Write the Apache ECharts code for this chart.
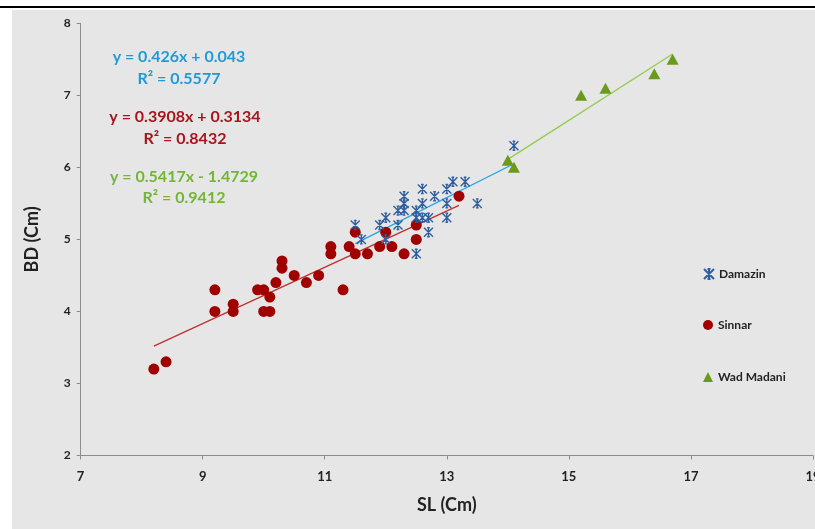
<!DOCTYPE html>
<html>
<head>
<meta charset="utf-8">
<script src="https://cdn.jsdelivr.net/npm/echarts@6/dist/echarts.min.js"></script>
<style>
html,body{margin:0;padding:0;background:#fff;}
#c{width:815px;height:529px;}
</style>
</head>
<body>
<div id="c"></div>
<script>
// ---- data ----
const damazinSL = [11.5,11.6,11.9,12.0,12.0,12.2,12.2,12.3,12.3,12.3,12.5,12.5,12.5,12.6,12.6,12.6,12.7,12.7,12.8,13.0,13.0,13.0,13.1,13.3,13.5,14.1];
const damazinBD = [5.2,5.0,5.2,5.3,5.0,5.4,5.2,5.6,5.5,5.4,5.4,4.8,5.3,5.7,5.5,5.3,5.3,5.1,5.6,5.7,5.5,5.3,5.8,5.8,5.5,6.3];
const sinnarSL = [8.2,8.4,9.2,9.2,9.5,9.5,9.9,10.0,10.0,10.1,10.1,10.2,10.3,10.3,10.5,10.7,10.9,11.1,11.1,11.3,11.4,11.5,11.5,11.7,11.9,12.0,12.1,12.3,12.5,12.5,13.2];
const sinnarBD = [3.2,3.3,4.3,4.0,4.1,4.0,4.3,4.3,4.0,4.0,4.2,4.4,4.7,4.6,4.5,4.4,4.5,4.9,4.8,4.3,4.9,5.1,4.8,4.8,4.9,5.1,4.9,4.8,5.2,5.0,5.6];
const wadSL = [14.0,14.1,15.2,15.6,16.4,16.7];
const wadBD = [6.1,6.0,7.0,7.1,7.3,7.5];
const seriesNames = ['Damazin','Sinnar','Wad Madani'];
// trend line coefficients [slope, intercept, R2]
const damazinFit = [0.426, 0.043, 0.5577];
const sinnarFit = [0.3908, 0.3134, 0.8432];
const wadFit = [0.5417, -1.4729, 0.9412];
const xTicks = [7, 9, 11, 13, 15, 17, 19];
const yTicks = [2, 3, 4, 5, 6, 7, 8];

const pairs = (xs, ys) => xs.map((x, i) => [x, ys[i]]);
const trend = (xs, fit) => {
  const a = Math.min(...xs), b = Math.max(...xs);
  return [[a, fit[0]*a + fit[1]], [b, fit[0]*b + fit[1]]];
};
const eq = fit => 'y = ' + fit[0] + 'x ' + (fit[1] < 0 ? '- ' : '+ ') + Math.abs(fit[1]);
const r2 = fit => 'R\u00B2 = ' + fit[2];

const cBlueMk = '#2f5f9e', cBlueLn = '#27a3e3', cBlueTx = '#1f9ad8';
const cRed = '#a00000', cRedLn = '#c0302f', cRedTx = '#a8141b';
const cGreenMk = '#6a9a1c', cGreenLn = '#92cc4a', cGreenTx = '#72b634';
const FONT = 'Lato, "Open Sans", sans-serif';
const star = 'path://M0,0L10,10M10,0L0,10M5,0L5,10M3.5,0L6.5,0M3.5,10L6.5,10';

const chart = echarts.init(document.getElementById('c'));
const legendBase = {
  orient: 'vertical', left: 703, itemWidth: 10, itemHeight: 10, itemGap: 5, padding: 0,
  textStyle: {fontFamily: FONT, fontWeight: 'bold', fontSize: 12, color: '#222'},
  selectedMode: false
};
const eqText = (txt, cx, cy, col) => ({
  type: 'text', x: cx, y: cy,
  style: {text: txt, fill: col, font: 'bold 16px ' + FONT, textAlign: 'center', textVerticalAlign: 'middle'}
});
chart.setOption({
  animation: false,
  backgroundColor: '#ffffff',
  graphic: [
    {type: 'rect', z: -10, shape: {x: 12, y: 10, width: 803, height: 519}, style: {fill: '#e6e6e6'}, silent: true},
    {type: 'line', shape: {x1: 0, y1: 7, x2: 815, y2: 7}, style: {stroke: '#000', lineWidth: 2}},
    eqText(eq(damazinFit), 179, 57, cBlueTx),
    eqText(r2(damazinFit), 179, 79, cBlueTx),
    eqText(eq(sinnarFit), 185, 117, cRedTx),
    eqText(r2(sinnarFit), 185, 139, cRedTx),
    eqText(eq(wadFit), 184, 177, cGreenTx),
    eqText(r2(wadFit), 184, 198, cGreenTx)
  ],
  grid: {left: 80.6, right: 2, top: 23.3, bottom: 73.5, containLabel: false, outerBoundsMode: 'none'},
  legend: [
    Object.assign({}, legendBase, {top: 268, data: [seriesNames[0]]}),
    Object.assign({}, legendBase, {top: 319, data: [seriesNames[1]]}),
    Object.assign({}, legendBase, {top: 371, data: [seriesNames[2]]})
  ],
  xAxis: {
    type: 'value', min: 7, max: 19, interval: 2,
    name: 'SL (Cm)', nameLocation: 'middle', nameGap: 41,
    nameTextStyle: {fontFamily: FONT, fontWeight: 'bold', fontSize: 18, color: '#222'},
    axisLine: {show: true, lineStyle: {color: '#8c8c8c', width: 1}},
    axisTick: {show: true, length: 4, lineStyle: {color: '#8c8c8c'}},
    axisLabel: {fontFamily: FONT, fontWeight: 'bold', fontSize: 13, color: '#222', margin: 15},
    splitLine: {show: false}
  },
  yAxis: {
    type: 'value', min: 2, max: 8, interval: 1,
    name: 'BD (Cm)', nameLocation: 'middle', nameGap: 39, nameRotate: 90,
    nameTextStyle: {fontFamily: FONT, fontWeight: 'bold', fontSize: 18, color: '#222'},
    axisLine: {show: true, lineStyle: {color: '#8c8c8c', width: 1}},
    axisTick: {show: true, length: 4, lineStyle: {color: '#8c8c8c'}},
    axisLabel: {fontFamily: FONT, fontWeight: 'bold', fontSize: 12, color: '#222', margin: 10},
    splitLine: {show: false}
  },
  series: [
    {type: 'line', data: trend(damazinSL, damazinFit), showSymbol: false, symbol: 'none', lineStyle: {color: cBlueLn, width: 1.3}, z: 1, silent: true},
    {type: 'line', data: trend(sinnarSL, sinnarFit), showSymbol: false, symbol: 'none', lineStyle: {color: cRedLn, width: 1.3}, z: 1, silent: true},
    {type: 'line', data: trend(wadSL, wadFit), showSymbol: false, symbol: 'none', lineStyle: {color: cGreenLn, width: 1.3}, z: 1, silent: true},
    {name: seriesNames[1], type: 'scatter', data: pairs(sinnarSL, sinnarBD), symbol: 'circle', symbolSize: 11,
      itemStyle: {color: cRed, opacity: 1}, z: 2},
    {name: seriesNames[0], type: 'scatter', data: pairs(damazinSL, damazinBD), symbol: star, symbolSize: 9,
      itemStyle: {color: 'rgba(0,0,0,0)', borderColor: cBlueMk, borderWidth: 1.4, opacity: 1}, z: 3},
    {name: seriesNames[2], type: 'scatter', data: pairs(wadSL, wadBD), symbol: 'triangle', symbolSize: [12, 11],
      itemStyle: {color: cGreenMk, opacity: 1}, z: 3}
  ]
});
</script>
</body>
</html>
